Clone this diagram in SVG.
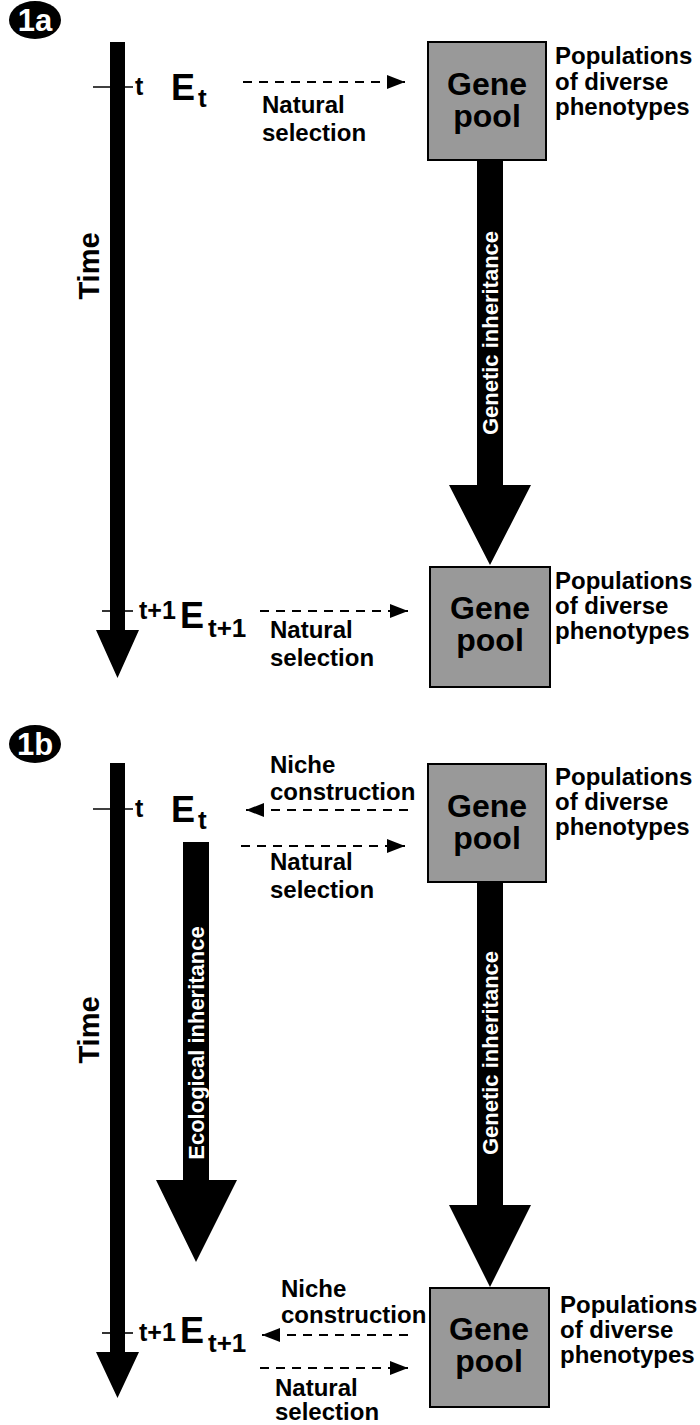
<svg xmlns="http://www.w3.org/2000/svg" width="700" height="1425" viewBox="0 0 700 1425">
  <defs>
    <style>
      text { font-family: "Liberation Sans", Arial, sans-serif; font-weight: bold; fill: #000; }
      .badge { fill: #000; }
      .badge-label { font-size: 31px; fill: #fff; text-anchor: middle; }
      .axis-label { font-size: 29px; text-anchor: middle; }
      .tick { stroke: #000; stroke-width: 1.6; }
      .time-mark { font-size: 25px; }
      .env { font-size: 36px; }
      .env-sub { font-size: 26px; }
      .pool { fill: #999; stroke: #000; stroke-width: 2; }
      .pool-label { font-size: 32px; text-anchor: middle; }
      .pheno { font-size: 24px; }
      .label { font-size: 24px; }
      .solid { fill: #000; }
      .inner { font-size: 22px; fill: #fff; text-anchor: middle; }
      .dash { stroke: #000; stroke-width: 2; stroke-dasharray: 9 7; fill: none; marker-end: url(#head); }
    </style>
    <marker id="head" viewBox="0 0 18 14" refX="18" refY="7" markerWidth="18" markerHeight="14" markerUnits="userSpaceOnUse" orient="auto">
      <path d="M0,0 L18,7 L0,14 Z" fill="#000"/>
    </marker>
  </defs>

  <rect width="700" height="1425" fill="#fff"/>

  <!-- ===== Panel 1a ===== -->
  <g id="badge-1a">
    <ellipse class="badge" cx="35" cy="20" rx="26" ry="19"/>
    <text class="badge-label" x="35" y="31">1a</text>
  </g>

  <g id="time-1a">
    <text class="axis-label" transform="translate(89,266) rotate(-90)" x="0" y="10">Time</text>
    <line class="tick" x1="93" y1="87" x2="133" y2="87"/>
    <line class="tick" x1="102" y1="611" x2="133" y2="611"/>
    <text class="time-mark" x="135" y="95">t</text>
    <text class="time-mark" x="139" y="619">t+1</text>
  </g>

  <g id="env-1a-t">
    <text class="env" x="171" y="100">E<tspan class="env-sub" x="198" y="107">t</tspan></text>
  </g>
  <g id="env-1a-t1">
    <text class="env" x="180" y="628">E<tspan class="env-sub" x="208" y="637">t+1</tspan></text>
  </g>

  <g id="pool-1a-t">
    <rect class="pool" x="428" y="42" width="118" height="118"/>
    <text class="pool-label" x="487" y="95">Gene</text>
    <text class="pool-label" x="487" y="127">pool</text>
    <text class="pheno" x="555" y="64">Populations</text>
    <text class="pheno" x="555" y="90">of diverse</text>
    <text class="pheno" x="555" y="115">phenotypes</text>
  </g>

  <g id="pool-1a-t1">
    <rect class="pool" x="430" y="567" width="120" height="120"/>
    <text class="pool-label" x="490" y="619">Gene</text>
    <text class="pool-label" x="490" y="651">pool</text>
    <text class="pheno" x="555" y="589">Populations</text>
    <text class="pheno" x="555" y="614">of diverse</text>
    <text class="pheno" x="555" y="639">phenotypes</text>
  </g>

  <!-- ===== Panel 1b ===== -->
  <g id="badge-1b">
    <ellipse class="badge" cx="35" cy="744" rx="26" ry="19"/>
    <text class="badge-label" x="35" y="755">1b</text>
  </g>

  <g id="time-1b">
    <text class="axis-label" transform="translate(89,1030) rotate(-90)" x="0" y="10">Time</text>
    <line class="tick" x1="93" y1="809" x2="133" y2="809"/>
    <line class="tick" x1="102" y1="1333" x2="133" y2="1333"/>
    <text class="time-mark" x="135" y="817">t</text>
    <text class="time-mark" x="139" y="1341">t+1</text>
  </g>

  <g id="env-1b-t">
    <text class="env" x="171" y="822">E<tspan class="env-sub" x="198" y="829">t</tspan></text>
  </g>
  <g id="env-1b-t1">
    <text class="env" x="180" y="1343">E<tspan class="env-sub" x="208" y="1352">t+1</tspan></text>
  </g>

  <g id="pool-1b-t">
    <rect class="pool" x="428" y="764" width="118" height="118"/>
    <text class="pool-label" x="487" y="817">Gene</text>
    <text class="pool-label" x="487" y="849">pool</text>
    <text class="pheno" x="555" y="785">Populations</text>
    <text class="pheno" x="555" y="810">of diverse</text>
    <text class="pheno" x="555" y="835">phenotypes</text>
  </g>

  <g id="pool-1b-t1">
    <rect class="pool" x="430" y="1288" width="119" height="119"/>
    <text class="pool-label" x="489" y="1340">Gene</text>
    <text class="pool-label" x="489" y="1372">pool</text>
    <text class="pheno" x="560" y="1313">Populations</text>
    <text class="pheno" x="560" y="1338">of diverse</text>
    <text class="pheno" x="560" y="1363">phenotypes</text>
  </g>

  <!-- ===== Connectors ===== -->
  <g id="connectors">
    <!-- time axes -->
    <polygon class="solid" points="110,42 125,42 125,630 139,630 117.5,678 96,630 110,630"/>
    <polygon class="solid" points="110,763 125,763 125,1352 139,1352 117.5,1398 96,1352 110,1352"/>

    <!-- genetic inheritance -->
    <polygon class="solid" points="477,160 503,160 503,485 531,485 490,565 449,485 477,485"/>
    <text class="inner" transform="translate(490,333) rotate(-90)" x="0" y="8">Genetic inheritance</text>
    <polygon class="solid" points="477,882 503,882 503,1205 531,1205 490,1287 449,1205 477,1205"/>
    <text class="inner" transform="translate(490,1053) rotate(-90)" x="0" y="8">Genetic inheritance</text>

    <!-- ecological inheritance -->
    <polygon class="solid" points="183,842 209,842 209,1180 237,1180 196,1262 156,1180 183,1180"/>
    <text class="inner" transform="translate(196,1043) rotate(-90)" x="0" y="8">Ecological inheritance</text>

    <!-- selection / construction links -->
    <line class="dash" x1="243" y1="82" x2="405" y2="82"/>
    <text class="label" x="262" y="113">Natural</text>
    <text class="label" x="262" y="141">selection</text>

    <line class="dash" x1="260" y1="611" x2="408" y2="611"/>
    <text class="label" x="270" y="638">Natural</text>
    <text class="label" x="270" y="666">selection</text>

    <line class="dash" x1="408" y1="810" x2="246" y2="810"/>
    <text class="label" x="270" y="773">Niche</text>
    <text class="label" x="270" y="800">construction</text>
    <line class="dash" x1="241" y1="846" x2="405" y2="846"/>
    <text class="label" x="270" y="870">Natural</text>
    <text class="label" x="270" y="898">selection</text>

    <line class="dash" x1="408" y1="1335" x2="262" y2="1335"/>
    <text class="label" x="281" y="1297">Niche</text>
    <text class="label" x="281" y="1323">construction</text>
    <line class="dash" x1="260" y1="1368" x2="408" y2="1368"/>
    <text class="label" x="275" y="1396">Natural</text>
    <text class="label" x="275" y="1420">selection</text>
  </g>
</svg>
